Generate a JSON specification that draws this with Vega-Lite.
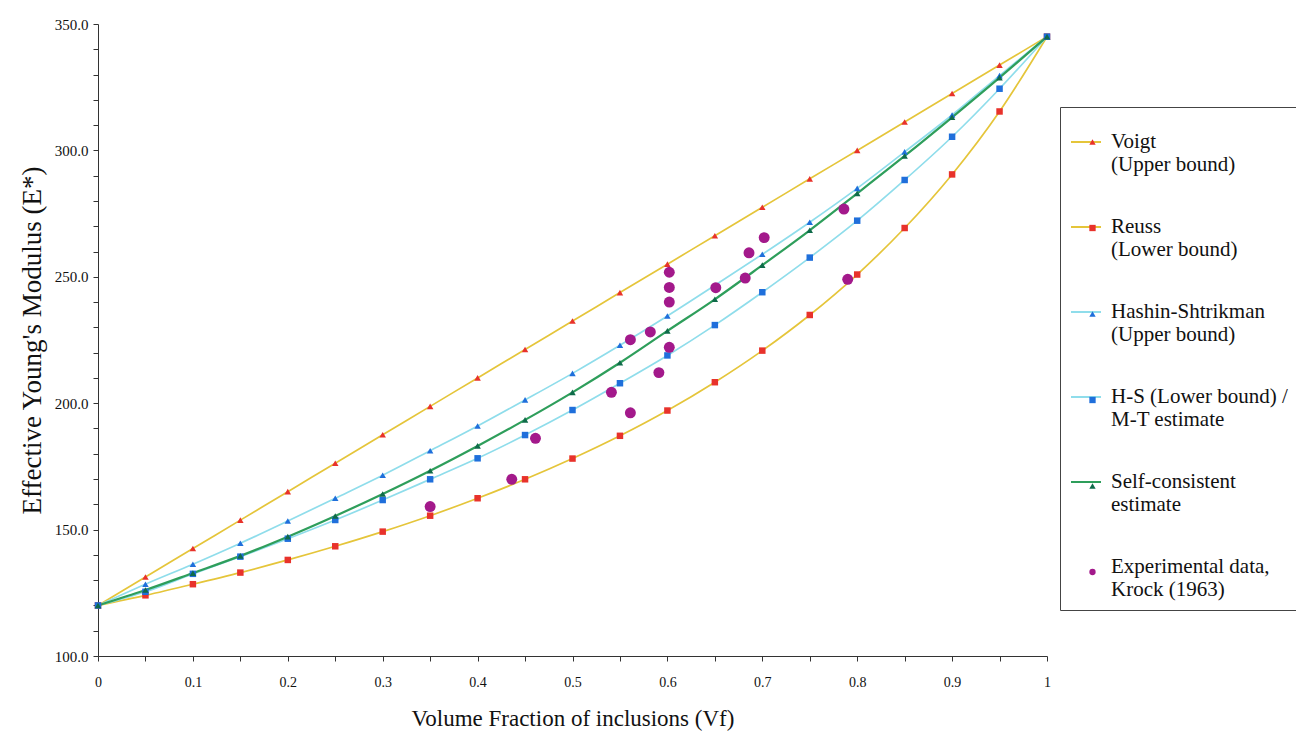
{
  "$schema": "https://vega.github.io/schema/vega-lite/v6.json",
  "width": 949,
  "height": 632,
  "autosize": "none",
  "padding": {"left": 98, "top": 24, "right": 249, "bottom": 79},
  "background": "white",
  "config": {
    "view": {"stroke": null},
    "font": "Liberation Serif",
    "axis": {"grid": false, "domainColor": "#333", "tickColor": "#333", "labelColor": "#111", "titleColor": "#111", "labelFont": "Liberation Serif", "titleFont": "Liberation Serif", "titleFontWeight": "normal"}
  },
  "data": {
    "values": [
      {"series": "Voigt (Upper bound)", "v": 0, "E": 120},
      {"series": "Voigt (Upper bound)", "v": 0.05, "E": 131.25},
      {"series": "Voigt (Upper bound)", "v": 0.1, "E": 142.5},
      {"series": "Voigt (Upper bound)", "v": 0.15, "E": 153.75},
      {"series": "Voigt (Upper bound)", "v": 0.2, "E": 165},
      {"series": "Voigt (Upper bound)", "v": 0.25, "E": 176.25},
      {"series": "Voigt (Upper bound)", "v": 0.3, "E": 187.5},
      {"series": "Voigt (Upper bound)", "v": 0.35, "E": 198.75},
      {"series": "Voigt (Upper bound)", "v": 0.4, "E": 210},
      {"series": "Voigt (Upper bound)", "v": 0.45, "E": 221.25},
      {"series": "Voigt (Upper bound)", "v": 0.5, "E": 232.5},
      {"series": "Voigt (Upper bound)", "v": 0.55, "E": 243.75},
      {"series": "Voigt (Upper bound)", "v": 0.6, "E": 255},
      {"series": "Voigt (Upper bound)", "v": 0.65, "E": 266.25},
      {"series": "Voigt (Upper bound)", "v": 0.7, "E": 277.5},
      {"series": "Voigt (Upper bound)", "v": 0.75, "E": 288.75},
      {"series": "Voigt (Upper bound)", "v": 0.8, "E": 300},
      {"series": "Voigt (Upper bound)", "v": 0.85, "E": 311.25},
      {"series": "Voigt (Upper bound)", "v": 0.9, "E": 322.5},
      {"series": "Voigt (Upper bound)", "v": 0.95, "E": 333.75},
      {"series": "Voigt (Upper bound)", "v": 1, "E": 345},
      {"series": "Reuss (Lower bound)", "v": 0, "E": 120},
      {"series": "Reuss (Lower bound)", "v": 0.05, "E": 124.0},
      {"series": "Reuss (Lower bound)", "v": 0.1, "E": 128.4},
      {"series": "Reuss (Lower bound)", "v": 0.15, "E": 133.0},
      {"series": "Reuss (Lower bound)", "v": 0.2, "E": 138.0},
      {"series": "Reuss (Lower bound)", "v": 0.25, "E": 143.4},
      {"series": "Reuss (Lower bound)", "v": 0.3, "E": 149.2},
      {"series": "Reuss (Lower bound)", "v": 0.35, "E": 155.5},
      {"series": "Reuss (Lower bound)", "v": 0.4, "E": 162.4},
      {"series": "Reuss (Lower bound)", "v": 0.45, "E": 169.9},
      {"series": "Reuss (Lower bound)", "v": 0.5, "E": 178.1},
      {"series": "Reuss (Lower bound)", "v": 0.55, "E": 187.1},
      {"series": "Reuss (Lower bound)", "v": 0.6, "E": 197.1},
      {"series": "Reuss (Lower bound)", "v": 0.65, "E": 208.3},
      {"series": "Reuss (Lower bound)", "v": 0.7, "E": 220.8},
      {"series": "Reuss (Lower bound)", "v": 0.75, "E": 234.9},
      {"series": "Reuss (Lower bound)", "v": 0.8, "E": 250.9},
      {"series": "Reuss (Lower bound)", "v": 0.85, "E": 269.3},
      {"series": "Reuss (Lower bound)", "v": 0.9, "E": 290.5},
      {"series": "Reuss (Lower bound)", "v": 0.95, "E": 315.4},
      {"series": "Reuss (Lower bound)", "v": 1, "E": 345},
      {"series": "Hashin-Shtrikman (Upper bound)", "v": 0, "E": 120},
      {"series": "Hashin-Shtrikman (Upper bound)", "v": 0.05, "E": 128.4},
      {"series": "Hashin-Shtrikman (Upper bound)", "v": 0.1, "E": 136.3},
      {"series": "Hashin-Shtrikman (Upper bound)", "v": 0.15, "E": 144.6},
      {"series": "Hashin-Shtrikman (Upper bound)", "v": 0.2, "E": 153.4},
      {"series": "Hashin-Shtrikman (Upper bound)", "v": 0.25, "E": 162.4},
      {"series": "Hashin-Shtrikman (Upper bound)", "v": 0.3, "E": 171.5},
      {"series": "Hashin-Shtrikman (Upper bound)", "v": 0.35, "E": 181.2},
      {"series": "Hashin-Shtrikman (Upper bound)", "v": 0.4, "E": 191.0},
      {"series": "Hashin-Shtrikman (Upper bound)", "v": 0.45, "E": 201.3},
      {"series": "Hashin-Shtrikman (Upper bound)", "v": 0.5, "E": 211.8},
      {"series": "Hashin-Shtrikman (Upper bound)", "v": 0.55, "E": 222.9},
      {"series": "Hashin-Shtrikman (Upper bound)", "v": 0.6, "E": 234.5},
      {"series": "Hashin-Shtrikman (Upper bound)", "v": 0.65, "E": 246.6},
      {"series": "Hashin-Shtrikman (Upper bound)", "v": 0.7, "E": 258.9},
      {"series": "Hashin-Shtrikman (Upper bound)", "v": 0.75, "E": 271.6},
      {"series": "Hashin-Shtrikman (Upper bound)", "v": 0.8, "E": 285.0},
      {"series": "Hashin-Shtrikman (Upper bound)", "v": 0.85, "E": 299.4},
      {"series": "Hashin-Shtrikman (Upper bound)", "v": 0.9, "E": 314.0},
      {"series": "Hashin-Shtrikman (Upper bound)", "v": 0.95, "E": 329.6},
      {"series": "Hashin-Shtrikman (Upper bound)", "v": 1, "E": 345},
      {"series": "H-S (Lower bound) / M-T estimate", "v": 0, "E": 120},
      {"series": "H-S (Lower bound) / M-T estimate", "v": 0.05, "E": 125.4},
      {"series": "H-S (Lower bound) / M-T estimate", "v": 0.1, "E": 132.5},
      {"series": "H-S (Lower bound) / M-T estimate", "v": 0.15, "E": 139.3},
      {"series": "H-S (Lower bound) / M-T estimate", "v": 0.2, "E": 146.4},
      {"series": "H-S (Lower bound) / M-T estimate", "v": 0.25, "E": 153.8},
      {"series": "H-S (Lower bound) / M-T estimate", "v": 0.3, "E": 161.7},
      {"series": "H-S (Lower bound) / M-T estimate", "v": 0.35, "E": 169.9},
      {"series": "H-S (Lower bound) / M-T estimate", "v": 0.4, "E": 178.2},
      {"series": "H-S (Lower bound) / M-T estimate", "v": 0.45, "E": 187.4},
      {"series": "H-S (Lower bound) / M-T estimate", "v": 0.5, "E": 197.3},
      {"series": "H-S (Lower bound) / M-T estimate", "v": 0.55, "E": 207.9},
      {"series": "H-S (Lower bound) / M-T estimate", "v": 0.6, "E": 218.9},
      {"series": "H-S (Lower bound) / M-T estimate", "v": 0.65, "E": 230.9},
      {"series": "H-S (Lower bound) / M-T estimate", "v": 0.7, "E": 243.9},
      {"series": "H-S (Lower bound) / M-T estimate", "v": 0.75, "E": 257.6},
      {"series": "H-S (Lower bound) / M-T estimate", "v": 0.8, "E": 272.2},
      {"series": "H-S (Lower bound) / M-T estimate", "v": 0.85, "E": 288.3},
      {"series": "H-S (Lower bound) / M-T estimate", "v": 0.9, "E": 305.4},
      {"series": "H-S (Lower bound) / M-T estimate", "v": 0.95, "E": 324.4},
      {"series": "H-S (Lower bound) / M-T estimate", "v": 1, "E": 345},
      {"series": "Self-consistent estimate", "v": 0, "E": 120},
      {"series": "Self-consistent estimate", "v": 0.05, "E": 126.1},
      {"series": "Self-consistent estimate", "v": 0.1, "E": 132.8},
      {"series": "Self-consistent estimate", "v": 0.15, "E": 139.6},
      {"series": "Self-consistent estimate", "v": 0.2, "E": 147.2},
      {"series": "Self-consistent estimate", "v": 0.25, "E": 155.4},
      {"series": "Self-consistent estimate", "v": 0.3, "E": 164.1},
      {"series": "Self-consistent estimate", "v": 0.35, "E": 173.3},
      {"series": "Self-consistent estimate", "v": 0.4, "E": 183.1},
      {"series": "Self-consistent estimate", "v": 0.45, "E": 193.4},
      {"series": "Self-consistent estimate", "v": 0.5, "E": 204.3},
      {"series": "Self-consistent estimate", "v": 0.55, "E": 216.0},
      {"series": "Self-consistent estimate", "v": 0.6, "E": 228.6},
      {"series": "Self-consistent estimate", "v": 0.65, "E": 241.1},
      {"series": "Self-consistent estimate", "v": 0.7, "E": 254.6},
      {"series": "Self-consistent estimate", "v": 0.75, "E": 268.4},
      {"series": "Self-consistent estimate", "v": 0.8, "E": 283.0},
      {"series": "Self-consistent estimate", "v": 0.85, "E": 297.8},
      {"series": "Self-consistent estimate", "v": 0.9, "E": 313.1},
      {"series": "Self-consistent estimate", "v": 0.95, "E": 328.8},
      {"series": "Self-consistent estimate", "v": 1, "E": 345},
      {"series": "Experimental data, Krock (1963)", "v": 0.35, "E": 159.1},
      {"series": "Experimental data, Krock (1963)", "v": 0.436, "E": 169.9},
      {"series": "Experimental data, Krock (1963)", "v": 0.461, "E": 186.1},
      {"series": "Experimental data, Krock (1963)", "v": 0.541, "E": 204.3},
      {"series": "Experimental data, Krock (1963)", "v": 0.561, "E": 196.2},
      {"series": "Experimental data, Krock (1963)", "v": 0.561, "E": 225.1},
      {"series": "Experimental data, Krock (1963)", "v": 0.582, "E": 228.2},
      {"series": "Experimental data, Krock (1963)", "v": 0.591, "E": 212.1},
      {"series": "Experimental data, Krock (1963)", "v": 0.602, "E": 251.8},
      {"series": "Experimental data, Krock (1963)", "v": 0.602, "E": 245.8},
      {"series": "Experimental data, Krock (1963)", "v": 0.602, "E": 240.0},
      {"series": "Experimental data, Krock (1963)", "v": 0.602, "E": 222.1},
      {"series": "Experimental data, Krock (1963)", "v": 0.651, "E": 245.7},
      {"series": "Experimental data, Krock (1963)", "v": 0.682, "E": 249.5},
      {"series": "Experimental data, Krock (1963)", "v": 0.686, "E": 259.5},
      {"series": "Experimental data, Krock (1963)", "v": 0.702, "E": 265.5},
      {"series": "Experimental data, Krock (1963)", "v": 0.786, "E": 276.8},
      {"series": "Experimental data, Krock (1963)", "v": 0.79, "E": 249.0}
    ]
  },
  "encoding": {
    "x": {
      "field": "v", "type": "quantitative",
      "scale": {"domain": [0, 1], "nice": false, "zero": false},
      "axis": {
        "title": "Volume Fraction of inclusions (Vf)",
        "values": [0, 0.05, 0.1, 0.15, 0.2, 0.25, 0.3, 0.35, 0.4, 0.45, 0.5, 0.55, 0.6, 0.65, 0.7, 0.75, 0.8, 0.85, 0.9, 0.95, 1],
        "labelExpr": "round(datum.value * 20) % 2 == 0 ? format(datum.value, '.1~f') : ''",
        "labelFontSize": 14, "labelPadding": 14, "tickSize": 5,
        "titleFontSize": 23, "titlePadding": 18, "labelFlush": false, "labelOverlap": false
      }
    },
    "y": {
      "field": "E", "type": "quantitative",
      "scale": {"domain": [100, 350], "nice": false, "zero": false},
      "axis": {
        "title": "Effective Young's Modulus (E*)",
        "values": [100, 110, 120, 130, 140, 150, 160, 170, 180, 190, 200, 210, 220, 230, 240, 250, 260, 270, 280, 290, 300, 310, 320, 330, 340, 350],
        "labelExpr": "datum.value % 50 == 0 ? format(datum.value, '.1f') : ''",
        "labelFontSize": 15, "labelPadding": 5, "tickSize": 5,
        "titleFontSize": 27, "titlePadding": 8, "labelFlush": false, "labelOverlap": false
      }
    }
  },
  "layer": [
    {
      "mark": {"type": "line", "interpolate": "monotone"},
      "encoding": {
        "color": {
          "field": "series", "type": "nominal",
          "sort": ["Voigt (Upper bound)", "Reuss (Lower bound)", "Hashin-Shtrikman (Upper bound)", "H-S (Lower bound) / M-T estimate", "Self-consistent estimate", "Experimental data, Krock (1963)"],
          "scale": {"range": ["#E5C53A", "#E5C53A", "#8FDDEB", "#8FDDEB", "#2E9E5B", "rgba(0,0,0,0)"]},
          "legend": {
            "orient": "none", "legendX": 962, "legendY": 83, "zindex": 0,
            "title": " ", "titleFontSize": 8, "titlePadding": 2,
            "symbolType": "stroke", "symbolSize": 900, "symbolStrokeWidth": 1.8, "clipHeight": 30,
            "labelFont": "Liberation Serif", "labelFontSize": 21, "labelLineHeight": 25, "labelLimit": 400, "labelOffset": 9, "labelColor": "#111",
            "labelExpr": "{'Voigt (Upper bound)':['Voigt','(Upper bound)'],'Reuss (Lower bound)':['Reuss','(Lower bound)'],'Hashin-Shtrikman (Upper bound)':['Hashin-Shtrikman','(Upper bound)'],'H-S (Lower bound) / M-T estimate':['H-S (Lower bound) /','M-T estimate'],'Self-consistent estimate':['Self-consistent','estimate'],'Experimental data, Krock (1963)':['Experimental data,','Krock (1963)']}[datum.label]",
            "rowPadding": 37, "padding": 10, "strokeColor": "#444"
          }
        },
        "strokeWidth": {"condition": {"test": "datum.series == 'Self-consistent estimate'", "value": 2.2}, "value": 1.7}
      }
    },
    {
      "transform": [{"filter": "datum.series != 'Experimental data, Krock (1963)'"}],
      "mark": {"type": "point", "filled": true, "size": 42, "strokeWidth": 0, "opacity": 1},
      "encoding": {
        "fill": {
          "field": "series", "type": "nominal",
          "scale": {"domain": ["Voigt (Upper bound)", "Reuss (Lower bound)", "Hashin-Shtrikman (Upper bound)", "H-S (Lower bound) / M-T estimate", "Self-consistent estimate", "Experimental data, Krock (1963)"], "range": ["#E8322B", "#E8322B", "#1F6FDB", "#1F6FDB", "#0F6B4A", "#A3198B"]},
          "legend": {
            "orient": "none", "legendX": 962, "legendY": 83, "zindex": 1,
            "title": " ", "titleFontSize": 8, "titlePadding": 2,
            "symbolSize": 40, "symbolStrokeWidth": 0, "symbolOffset": 12, "clipHeight": 30,
            "labelFontSize": 21, "labelExpr": "''",
            "rowPadding": 56, "padding": 10
          }
        },
        "shape": {
          "field": "series", "type": "nominal",
          "scale": {"domain": ["Voigt (Upper bound)", "Reuss (Lower bound)", "Hashin-Shtrikman (Upper bound)", "H-S (Lower bound) / M-T estimate", "Self-consistent estimate", "Experimental data, Krock (1963)"], "range": ["triangle-up", "square", "triangle-up", "square", "triangle-up", "circle"]},
          "legend": {
            "orient": "none", "legendX": 962, "legendY": 83, "zindex": 1,
            "title": " ", "titleFontSize": 8, "titlePadding": 2,
            "symbolSize": 40, "symbolStrokeWidth": 0, "symbolOffset": 12, "clipHeight": 30,
            "labelFontSize": 21, "labelExpr": "''",
            "rowPadding": 56, "padding": 10
          }
        }
      }
    },
    {
      "transform": [{"filter": "datum.series == 'Experimental data, Krock (1963)'"}],
      "mark": {"type": "point", "filled": true, "size": 120, "strokeWidth": 0, "opacity": 1},
      "encoding": {
        "fill": {"field": "series", "type": "nominal"},
        "shape": {"field": "series", "type": "nominal"}
      }
    }
  ]
}
